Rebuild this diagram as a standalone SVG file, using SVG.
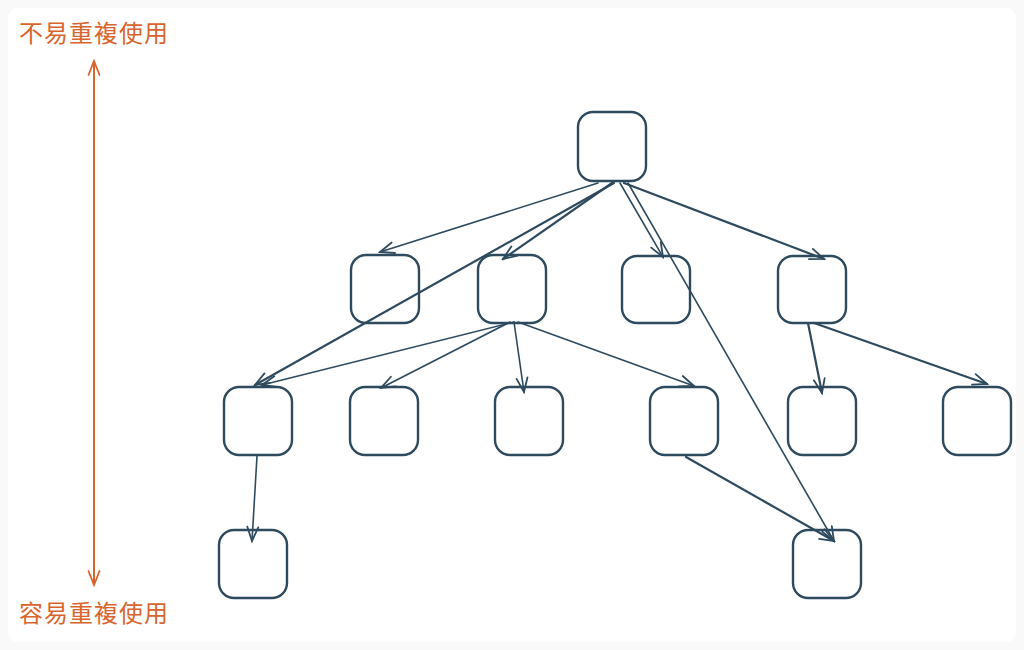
<svg xmlns="http://www.w3.org/2000/svg" width="1024" height="650" viewBox="0 0 1024 650">
<defs>
<style>
.node rect{fill:none;stroke:#2e4a5e;stroke-width:2.4}
.edge{fill:none;stroke:#2e4a5e;stroke-width:1.6;stroke-linecap:round}
.edge.thick{stroke-width:2.2}
.lbl{font-family:"Noto Sans CJK TC","Noto Sans CJK SC",sans-serif;font-size:24px;fill:#d9652e}
</style>
<marker id="ah" viewBox="-16 -8 18 16" refX="0" refY="0" markerWidth="18" markerHeight="16" markerUnits="userSpaceOnUse" orient="auto">
<path d="M-14,-5.5 L0,0 L-14,5.5" fill="none" stroke="#2e4a5e" stroke-width="1.8" stroke-linecap="round"/>
</marker>
<marker id="oah" viewBox="-16 -8 18 16" refX="0" refY="0" markerWidth="18" markerHeight="16" markerUnits="userSpaceOnUse" orient="auto-start-reverse">
<path d="M-14,-5.5 L0,0 L-14,5.5" fill="none" stroke="#d9652e" stroke-width="1.8" stroke-linecap="round"/>
</marker>
</defs>
<rect x="0" y="0" width="1024" height="650" fill="#f9f9f9"/>
<rect x="8" y="8" width="1008" height="634" rx="10" fill="#ffffff"/>

<g id="scale">
<line x1="94" y1="61" x2="94" y2="585" stroke="#d9652e" stroke-width="2" marker-start="url(#oah)" marker-end="url(#oah)"/>
<text class="lbl" x="19" y="42" textLength="149" lengthAdjust="spacing">不易重複使用</text>
<text class="lbl" x="19" y="622" textLength="149" lengthAdjust="spacing">容易重複使用</text>
</g>

<g id="connectors">
<line class="edge" x1="598" y1="183" x2="380" y2="252" marker-end="url(#ah)"/>
<line class="edge thick" x1="612" y1="183" x2="503" y2="259" marker-end="url(#ah)"/>
<line class="edge" x1="620" y1="183" x2="663" y2="257" marker-end="url(#ah)"/>
<line class="edge thick" x1="624" y1="183" x2="824" y2="259" marker-end="url(#ah)"/>
<line class="edge thick" x1="614" y1="183" x2="255" y2="385" marker-end="url(#ah)"/>
<line class="edge" x1="628" y1="183" x2="834" y2="541" marker-end="url(#ah)"/>
<line class="edge" x1="514" y1="322" x2="262" y2="385" marker-end="url(#ah)"/>
<line class="edge" x1="510" y1="322" x2="381" y2="388" marker-end="url(#ah)"/>
<line class="edge" x1="514" y1="322" x2="524" y2="392" marker-end="url(#ah)"/>
<line class="edge" x1="518" y1="322" x2="694" y2="386" marker-end="url(#ah)"/>
<line class="edge thick" x1="808" y1="323" x2="822" y2="393" marker-end="url(#ah)"/>
<line class="edge thick" x1="814" y1="323" x2="987" y2="384" marker-end="url(#ah)"/>
<line class="edge" x1="257" y1="456" x2="252" y2="541" marker-end="url(#ah)"/>
<line class="edge thick" x1="686" y1="457" x2="834" y2="541" marker-end="url(#ah)"/>
</g>

<g id="n0" class="node"><rect x="578" y="112" width="68" height="69" rx="15"/></g>
<g id="n1" class="node"><rect x="351" y="255" width="68" height="68" rx="15"/></g>
<g id="n2" class="node"><rect x="478" y="255" width="68" height="68" rx="15"/></g>
<g id="n3" class="node"><rect x="622" y="256" width="68" height="67" rx="15"/></g>
<g id="n4" class="node"><rect x="778" y="256" width="68" height="67" rx="15"/></g>
<g id="n5" class="node"><rect x="224" y="387" width="68" height="68" rx="15"/></g>
<g id="n6" class="node"><rect x="350" y="387" width="68" height="68" rx="15"/></g>
<g id="n7" class="node"><rect x="495" y="387" width="68" height="68" rx="15"/></g>
<g id="n8" class="node"><rect x="650" y="387" width="68" height="68" rx="15"/></g>
<g id="n9" class="node"><rect x="788" y="387" width="68" height="68" rx="15"/></g>
<g id="n10" class="node"><rect x="943" y="387" width="68" height="68" rx="15"/></g>
<g id="n11" class="node"><rect x="219" y="530" width="68" height="68" rx="15"/></g>
<g id="n12" class="node"><rect x="793" y="530" width="68" height="68" rx="15"/></g>
</svg>
